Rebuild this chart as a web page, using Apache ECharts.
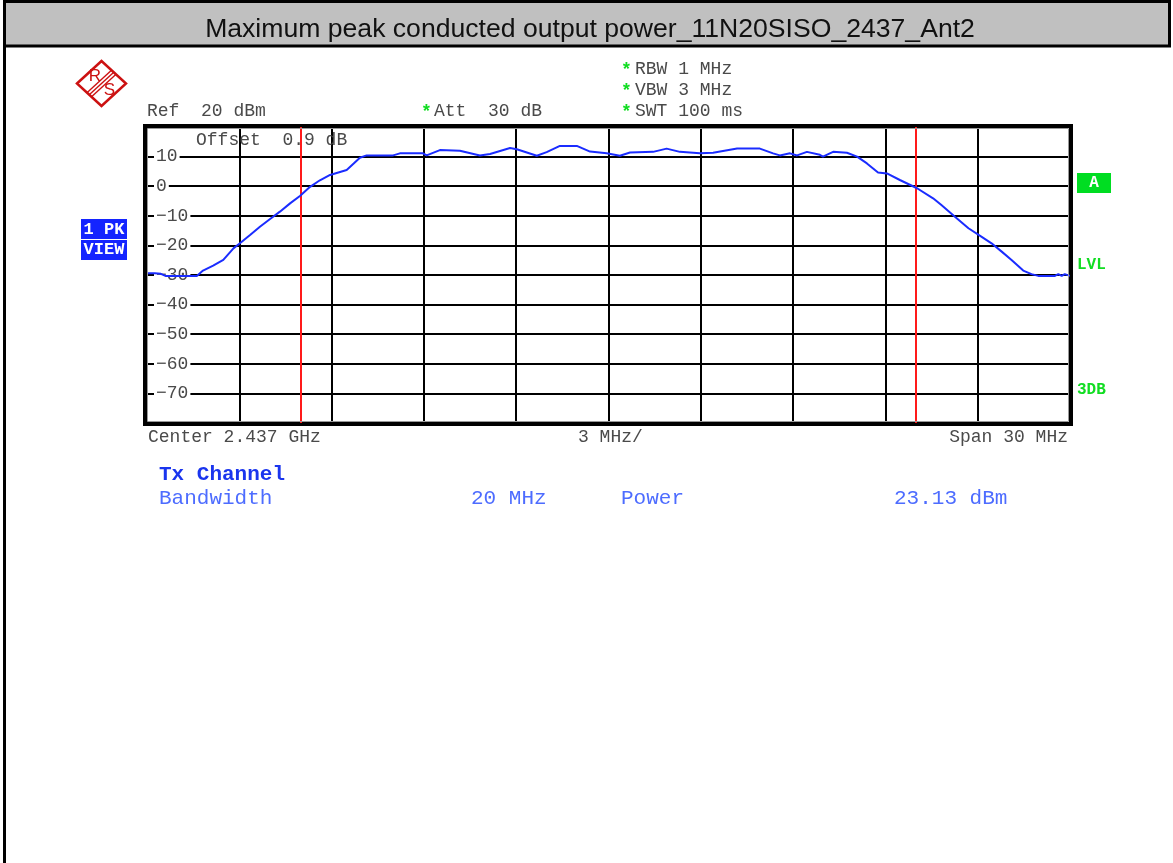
<!DOCTYPE html>
<html><head><meta charset="utf-8">
<script src="https://cdn.jsdelivr.net/npm/echarts@6/dist/echarts.min.js"></script>
<style>html,body{margin:0;padding:0;background:#fff;}#c{position:absolute;left:0;top:0;width:1173px;height:863px;}</style>
</head><body><div id="c"></div>
<script>
// ---------- data ----------
const titleText = 'Maximum peak conducted output power_11N20SISO_2437_Ant2';
// frequency offset from centre (MHz) and level (dBm) of the peak trace
const freqMHz = [-15.00,-14.75,-14.71,-14.55,-14.40,-13.75,-13.38,-13.18,-12.85,-12.52,-12.19,-11.98,-11.65,-11.33,-11.00,-10.68,-10.35,-10.03,-9.70,-9.38,-9.05,-8.51,-8.08,-7.86,-7.00,-6.78,-6.03,-5.91,-5.48,-4.83,-4.18,-3.85,-3.20,-2.98,-2.33,-2.01,-1.58,-1.03,-0.60,-0.06,0.37,0.70,1.45,1.89,2.32,2.97,3.40,4.18,4.92,5.35,5.57,5.90,6.13,6.45,6.87,6.97,7.30,7.75,8.08,8.40,8.76,9.05,9.47,10.03,10.55,10.81,11.26,11.70,12.13,12.45,12.78,13.10,13.48,13.75,13.97,14.51,14.62,14.73,14.83,15.00];
const levelDb = [-29.4,-29.4,-28.9,-29.6,-30.3,-30.3,-30.3,-28.5,-26.8,-24.9,-21.0,-19.3,-16.5,-13.7,-11.1,-8.6,-5.8,-3.3,-0.2,2.0,3.8,5.5,9.6,10.4,10.4,11.1,11.1,10.4,12.2,12.0,10.4,10.9,12.9,12.5,10.3,11.5,13.6,13.6,11.7,11.1,10.3,11.4,11.6,12.7,11.6,11.1,11.3,12.7,12.7,11.1,10.4,11.1,10.4,11.6,10.6,10.0,11.6,11.3,10.0,7.7,4.6,4.3,2.1,-0.7,-4.1,-6.3,-10.3,-14.2,-17.1,-19.3,-22.1,-24.9,-28.5,-29.7,-30.3,-30.3,-29.7,-30.3,-29.7,-30.3];
const channelEdgesMHz = [-10, 10];
const xMin = -15, xMax = 15, xStep = 3;
const yMin = -80, yMax = 20, yStep = 10;
const yTickValues = [10, 0, -10, -20, -30, -40, -50, -60, -70];
const yTickLabels = ['10', '0', '\u221210', '\u221220', '\u221230', '\u221240', '\u221250', '\u221260', '\u221270'];
const refText = 'Ref  20 dBm';
const attText = 'Att  30 dB';
const bwTexts = ['RBW 1 MHz', 'VBW 3 MHz', 'SWT 100 ms'];
const offsetText = 'Offset  0.9 dB';
const bottomTexts = ['Center 2.437 GHz', '3 MHz/', 'Span 30 MHz'];
const txHeader = 'Tx Channel';
const txRow = ['Bandwidth', '20 MHz', 'Power', '23.13 dBm'];
const traceLabel = ['1 PK', 'VIEW'];
const sideLabels = ['A', 'LVL', '3DB'];

// ---------- drawing ----------
const MONO = '"Liberation Mono","DejaVu Sans Mono",monospace';
const GREY = '#4a4a4a';
const GREEN = '#11dd22';
function T(x, y, text, o) {
  const st = Object.assign({text: text, fill: GREY, font: '18px ' + MONO,
    align: 'left', verticalAlign: 'middle', textAlign: 'left', textVerticalAlign: 'middle'}, o || {});
  if (o && o.align) st.textAlign = o.align;
  return {type: 'text', x: x, y: y, z: 10, style: st};
}
const els = [];
// page frame + title bar
els.push({type: 'rect', shape: {x: 3, y: 0, width: 3, height: 863}, style: {fill: '#000'}, z: 1});
els.push({type: 'rect', shape: {x: 4.5, y: 1.5, width: 1165, height: 44.5}, style: {fill: '#c0c0c0', stroke: '#000', lineWidth: 3}, z: 2});
els.push(T(590, 30, titleText, {font: '26.6px "Liberation Sans",Arial,sans-serif', fill: '#111', align: 'center'}));
// R&S logo
const RED = '#cc1111';
els.push({type: 'polygon', shape: {points: [[77, 83.5], [101.5, 61], [126, 83.5], [101.5, 106]]}, style: {fill: 'none', stroke: RED, lineWidth: 2.5}, z: 5});
[-3, 0, 3].forEach(function (d) {
  els.push({type: 'line', shape: {x1: 89.25 + d * 0.676, y1: 94.75 + d * 0.736, x2: 113.75 + d * 0.676, y2: 72.25 + d * 0.736}, style: {stroke: RED, lineWidth: 1.4}, z: 5});
});
els.push(T(95, 76.5, 'R', {font: '17px "Liberation Sans",Arial,sans-serif', fill: RED, align: 'center'}));
els.push(T(109.5, 90.5, 'S', {font: '17px "Liberation Sans",Arial,sans-serif', fill: RED, align: 'center'}));
// header settings
els.push(T(147, 111.5, refText));
const star = {font: 'bold 18px ' + MONO, fill: GREEN};
els.push(T(421, 112, '*', star));
els.push(T(434, 111.5, attText));
bwTexts.forEach(function (s, i) {
  els.push(T(621, 70 + i * 21 + 0.5, '*', star));
  els.push(T(635, 69.5 + i * 21, s));
});
els.push(T(196, 140, offsetText));
// below plot
els.push(T(148, 437.5, bottomTexts[0]));
els.push(T(578, 437.5, bottomTexts[1]));
els.push(T(1068, 437.5, bottomTexts[2], {align: 'right'}));
els.push(T(159, 475, txHeader, {font: 'bold 21px ' + MONO, fill: '#1a35ee'}));
const rowX = [159, 471, 621, 894];
txRow.forEach(function (s, i) { els.push(T(rowX[i], 498, s, {font: '21px ' + MONO, fill: '#4d6cff'})); });
// left trace indicator
els.push({type: 'rect', shape: {x: 81, y: 219, width: 46, height: 20}, style: {fill: '#1424ff'}, z: 5});
els.push({type: 'rect', shape: {x: 81, y: 240, width: 46, height: 20}, style: {fill: '#1424ff'}, z: 5});
els.push(T(104, 229.5, traceLabel[0], {font: 'bold 17px ' + MONO, fill: '#fff', align: 'center'}));
els.push(T(104, 250, traceLabel[1], {font: 'bold 17px ' + MONO, fill: '#fff', align: 'center'}));
// right side labels
els.push({type: 'rect', shape: {x: 1077, y: 173, width: 34, height: 20}, style: {fill: '#00dd22'}, z: 5});
els.push(T(1094, 183, sideLabels[0], {font: 'bold 16px ' + MONO, fill: '#fff', align: 'center'}));
els.push(T(1077, 265, sideLabels[1], {font: 'bold 16px ' + MONO, fill: GREEN}));
els.push(T(1077, 390, sideLabels[2], {font: 'bold 16px ' + MONO, fill: GREEN}));
// outer plot frame
els.push({type: 'rect', shape: {x: 144.5, y: 125.5, width: 927, height: 299}, style: {fill: 'none', stroke: '#000', lineWidth: 3}, z: 20});
els.push({type: 'rect', shape: {x: 147.5, y: 128.5, width: 921, height: 293}, style: {fill: 'none', stroke: '#999', lineWidth: 1}, z: 20});

const chart = echarts.init(document.getElementById('c'), null, {renderer: 'canvas', width: 1173, height: 863});
chart.setOption({
  animation: false,
  backgroundColor: '#fff',
  grid: {left: 147, top: 127, width: 923, height: 296, show: false, containLabel: false},
  xAxis: {type: 'value', min: xMin, max: xMax, interval: xStep,
    axisLine: {show: false}, axisTick: {show: false}, axisLabel: {show: false},
    splitLine: {show: true, lineStyle: {color: '#000', width: 2}}},
  yAxis: {type: 'value', min: yMin, max: yMax, interval: yStep,
    axisLine: {show: false}, axisTick: {show: false},
    axisLabel: {show: true, inside: true, margin: 7, showMinLabel: false, showMaxLabel: false,
      color: GREY, fontFamily: MONO, fontSize: 18, backgroundColor: '#fff', padding: [0, 2],
      formatter: function (v) { const i = yTickValues.indexOf(v); return i >= 0 ? yTickLabels[i] : ''; }},
    splitLine: {show: true, lineStyle: {color: '#000', width: 2}}},
  series: [{
    type: 'line', data: freqMHz.map(function (f, i) { return [f, levelDb[i]]; }),
    showSymbol: false, symbol: 'none', smooth: false, z: 5,
    lineStyle: {color: '#1a2cff', width: 2},
    markLine: {silent: true, symbol: ['none', 'none'], label: {show: false},
      lineStyle: {color: '#ff1a1a', width: 2, type: 'solid'},
      data: channelEdgesMHz.map(function (v) { return {xAxis: v}; })}
  }],
  graphic: {elements: els}
});
</script></body></html>
